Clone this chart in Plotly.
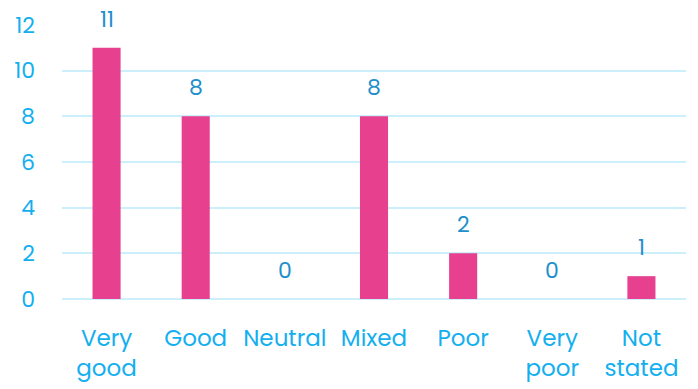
import plotly.graph_objects as go

categories = ["Very<br>good", "Good", "Neutral", "Mixed", "Poor", "Very<br>poor", "Not<br>stated"]
values = [11, 8, 0, 8, 2, 0, 1]
y_ticks = [0, 2, 4, 6, 8, 10, 12]

bar_color = "#E6408F"
tick_color = "#14AFEF"
label_color = "#1E8FCB"
grid_color = "#CBEFFB"
font_family = "Poppins, Inter, Lato, sans-serif"

fig = go.Figure()
fig.add_trace(go.Bar(
    x=categories, y=values,
    marker=dict(color=bar_color, line=dict(width=0)),
    hoverinfo="skip",
))
for c, v in zip(categories, values):
    fig.add_annotation(
        x=c, y=v, text=str(v), showarrow=False,
        yanchor="bottom", yshift=11,
        font=dict(family=font_family, size=22, color=label_color),
    )

fig.update_layout(
    width=698, height=389,
    margin=dict(l=62, r=12, t=25, b=90),
    paper_bgcolor="white", plot_bgcolor="white",
    bargap=0.685,
    showlegend=False,
    font=dict(family=font_family, size=22, color=tick_color),
)
fig.update_xaxes(
    showgrid=False, showline=False, ticks="", automargin=False,
    tickfont=dict(family=font_family, size=23, color=tick_color),
    ticklabelstandoff=23,
)
fig.update_yaxes(
    range=[0, 12], tickvals=y_ticks, automargin=False,
    showgrid=True, gridcolor=grid_color, gridwidth=2,
    zeroline=True, zerolinecolor=grid_color, zerolinewidth=2,
    showline=False, ticks="",
    tickfont=dict(family=font_family, size=22, color=tick_color),
    ticklabelstandoff=26,
)

fig.write_html("out.html")
